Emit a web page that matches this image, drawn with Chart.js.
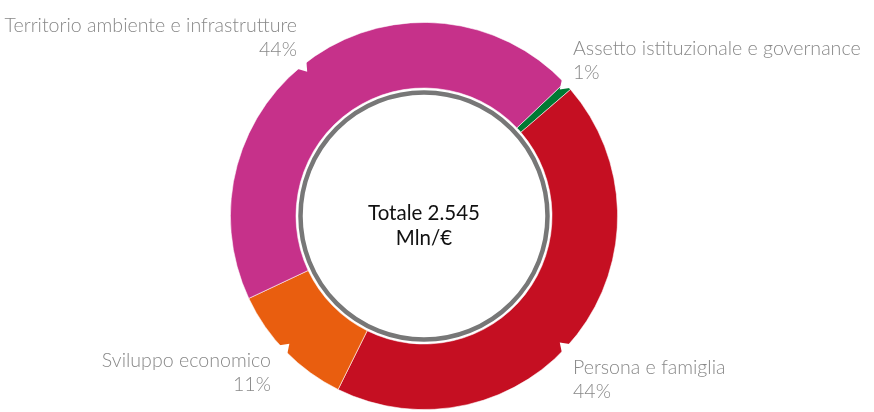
<!DOCTYPE html>
<html><head><meta charset="utf-8">
<script src="https://cdn.jsdelivr.net/npm/chart.js@4"></script>
<style>html,body{margin:0;padding:0;background:#fff;}#wrap{width:874px;height:412px;position:relative}</style>
</head><body><div id="wrap"><canvas id="c" width="874" height="412"></canvas></div>
<script>
const categories = ["Assetto istituzionale e governance", "Persona e famiglia", "Sviluppo economico", "Territorio ambiente e infrastrutture"];
const values = [19, 1111, 272, 1143];
const percentLabels = ["1%", "44%", "11%", "44%"];
const totalLabel = ["Totale 2.545", "Mln/€"];
const colors = ["#007a33", "#c50f22", "#e95e0f", "#c6318a"];

// layout for label text (x, baseline y of first line, alignment)
const labelLayout = [
  {x: 573, y: 55, align: "left"},
  {x: 573, y: 374, align: "left"},
  {x: 271, y: 367, align: "right"},
  {x: 297, y: 32, align: "right"}
];
const notchAngles = [47, 133, 226.5, 321];

const decor = {
  id: "decor",
  afterDatasetsDraw(chart) {
    const ctx = chart.ctx;
    const arc = chart.getDatasetMeta(0).data[0];
    const cx = arc.x, cy = arc.y, R = arc.outerRadius, r = arc.innerRadius;
    ctx.save();
    // notches
    ctx.fillStyle = "#ffffff";
    notchAngles.forEach(a => {
      const t = (a - 90) * Math.PI / 180;
      const d = 2.2 * Math.PI / 180;
      ctx.beginPath();
      ctx.moveTo(cx + (R - 8) * Math.cos(t), cy + (R - 8) * Math.sin(t));
      ctx.lineTo(cx + (R + 3) * Math.cos(t - d), cy + (R + 3) * Math.sin(t - d));
      ctx.lineTo(cx + (R + 3) * Math.cos(t + d), cy + (R + 3) * Math.sin(t + d));
      ctx.closePath();
      ctx.fill();
    });
    // inner gray ring
    ctx.beginPath();
    ctx.arc(cx, cy, r - 4.5, 0, Math.PI * 2);
    ctx.lineWidth = 4.5;
    ctx.strokeStyle = "#777777";
    ctx.stroke();
    // center text
    ctx.fillStyle = "#111111";
    ctx.font = "400 20.5px Lato, 'Open Sans', sans-serif";
    ctx.textAlign = "center";
    ctx.textBaseline = "alphabetic";
    ctx.fillText(totalLabel[0], cx, 220);
    ctx.fillText(totalLabel[1], cx, 245);
    // labels
    ctx.fillStyle = "#888888";
    ctx.font = "300 19.6px Lato, 'Open Sans', sans-serif";
    categories.forEach((c, i) => {
      const L = labelLayout[i];
      ctx.textAlign = L.align;
      ctx.fillText(c, L.x, L.y);
      ctx.fillText(percentLabels[i], L.x, L.y + 24);
    });
    ctx.restore();
  }
};

new Chart(document.getElementById("c"), {
  type: "doughnut",
  data: {
    labels: categories,
    datasets: [{
      data: values,
      backgroundColor: colors,
      borderColor: "rgba(255,255,255,0.7)",
      borderWidth: 0.8,
      hoverOffset: 0
    }]
  },
  options: {
    responsive: false,
    animation: false,
    rotation: 46.5,
    cutout: 128,
    layout: {padding: {top: 22, bottom: 2, left: 0, right: 26}},
    plugins: {legend: {display: false}, tooltip: {enabled: false}}
  },
  plugins: [decor]
});
</script>
</body></html>
